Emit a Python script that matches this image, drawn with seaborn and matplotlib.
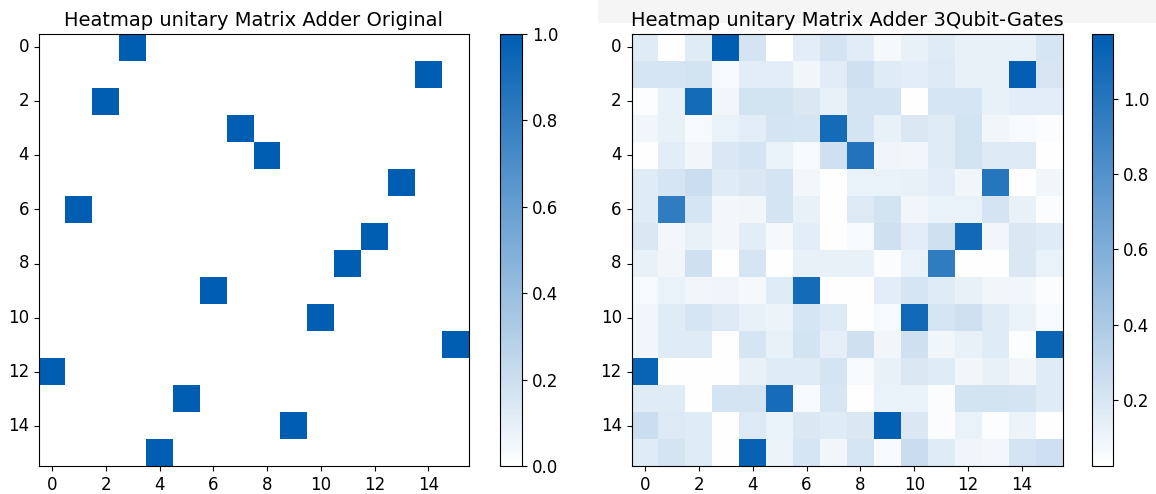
import numpy as np
import matplotlib
matplotlib.use("Agg")
import matplotlib.pyplot as plt
from matplotlib.colors import LinearSegmentedColormap
from matplotlib.patches import Rectangle
import seaborn as sns

# ---- data ----
# column index of the single 1 in each row of the original (permutation) unitary
perm_cols = [3, 14, 2, 7, 8, 13, 1, 12, 11, 6, 10, 15, 0, 5, 9, 4]

# magnitudes of the 3-qubit-gate version, row by row
r00 = [0.17, 0.03, 0.17, 1.173, 0.22, 0.024, 0.15, 0.22, 0.16, 0.07, 0.13, 0.17, 0.13, 0.13, 0.13, 0.21]
r01 = [0.21, 0.21, 0.23, 0.06, 0.15, 0.15, 0.09, 0.16, 0.24, 0.17, 0.15, 0.18, 0.13, 0.13, 1.16, 0.20]
r02 = [0.04, 0.13, 1.08, 0.09, 0.23, 0.23, 0.19, 0.13, 0.22, 0.22, 0.03, 0.21, 0.21, 0.13, 0.15, 0.15]
r03 = [0.09, 0.13, 0.06, 0.12, 0.15, 0.22, 0.21, 1.08, 0.22, 0.13, 0.19, 0.17, 0.23, 0.09, 0.06, 0.05]
r04 = [0.03, 0.15, 0.09, 0.19, 0.22, 0.12, 0.06, 0.24, 1.02, 0.10, 0.09, 0.17, 0.23, 0.18, 0.18, 0.03]
r05 = [0.17, 0.21, 0.26, 0.17, 0.19, 0.22, 0.08, 0.03, 0.12, 0.12, 0.13, 0.15, 0.09, 1.00, 0.03, 0.09]
r06 = [0.17, 0.96, 0.21, 0.08, 0.09, 0.22, 0.13, 0.03, 0.18, 0.23, 0.09, 0.12, 0.12, 0.22, 0.13, 0.05]
r07 = [0.19, 0.08, 0.13, 0.08, 0.15, 0.07, 0.15, 0.03, 0.06, 0.24, 0.15, 0.24, 1.09, 0.09, 0.19, 0.17]
r08 = [0.13, 0.09, 0.24, 0.03, 0.21, 0.03, 0.13, 0.13, 0.13, 0.05, 0.12, 0.96, 0.03, 0.03, 0.19, 0.12]
r09 = [0.06, 0.12, 0.09, 0.10, 0.07, 0.17, 1.08, 0.03, 0.03, 0.15, 0.21, 0.17, 0.13, 0.09, 0.09, 0.05]
r10 = [0.09, 0.17, 0.21, 0.18, 0.13, 0.11, 0.21, 0.18, 0.03, 0.06, 1.10, 0.21, 0.24, 0.17, 0.12, 0.06]
r11 = [0.09, 0.17, 0.17, 0.03, 0.21, 0.13, 0.23, 0.14, 0.24, 0.09, 0.24, 0.09, 0.13, 0.17, 0.04, 1.12]
r12 = [1.13, 0.03, 0.03, 0.03, 0.13, 0.17, 0.17, 0.22, 0.06, 0.13, 0.19, 0.17, 0.09, 0.13, 0.09, 0.17]
r13 = [0.17, 0.17, 0.03, 0.22, 0.22, 1.07, 0.06, 0.20, 0.03, 0.12, 0.12, 0.05, 0.23, 0.23, 0.22, 0.17]
r14 = [0.26, 0.18, 0.17, 0.03, 0.18, 0.12, 0.19, 0.17, 0.19, 1.16, 0.19, 0.05, 0.12, 0.04, 0.11, 0.03]
r15 = [0.17, 0.22, 0.17, 0.03, 1.14, 0.11, 0.21, 0.09, 0.21, 0.06, 0.27, 0.17, 0.10, 0.08, 0.22, 0.25]

tick_labels = ["0", "2", "4", "6", "8", "10", "12", "14"]
titles = ["Heatmap unitary Matrix Adder Original", "Heatmap unitary Matrix Adder 3Qubit-Gates"]

# ---- build matrices ----
n = len(perm_cols)
orig = np.zeros((n, n))
orig[np.arange(n), perm_cols] = 1.0
gates = np.array([r00, r01, r02, r03, r04, r05, r06, r07, r08, r09, r10, r11, r12, r13, r14, r15])

cmap = LinearSegmentedColormap.from_list("wb", ["#ffffff", "#005EB2"])

W, H = 1156, 494
fig = plt.figure(figsize=(W / 100, H / 100), dpi=100)

# faint grey band behind right title (as in the reference)
fig.patches.append(Rectangle((598 / W, 1 - 23 / H), 1 - 598 / W, 23 / H,
                             transform=fig.transFigure, facecolor="#f5f5f5",
                             edgecolor="none", zorder=-1))

def fx(px):
    return px / W

bottom = (H - 466) / H
height = 432 / H
ax1 = fig.add_axes([fx(38.6), bottom, fx(430), height])
cax1 = fig.add_axes([fx(500), bottom, fx(22), height])
ax2 = fig.add_axes([fx(631.5), bottom, fx(431), height])
cax2 = fig.add_axes([fx(1092), bottom, fx(21), height])

for ax, cax, data, title in [(ax1, cax1, orig, titles[0]), (ax2, cax2, gates, titles[1])]:
    sns.heatmap(data, ax=ax, cbar_ax=cax, cmap=cmap, cbar=True)
    ticks = np.arange(0, n, 2) + 0.5
    ax.set_xticks(ticks)
    ax.set_xticklabels(tick_labels, rotation=0, fontsize=12)
    ax.set_yticks(ticks)
    ax.set_yticklabels(tick_labels, rotation=0, fontsize=12)
    ax.tick_params(length=3.5, width=0.8, color="black")
    for s in ax.spines.values():
        s.set_visible(True)
        s.set_linewidth(0.8)
        s.set_color("black")
    ax.set_title(title, fontsize=14, pad=6)
    cb = ax.collections[0].colorbar
    cb.outline.set_visible(True)
    cb.outline.set_linewidth(0.8)
    cb.outline.set_edgecolor("black")
    cb.ax.tick_params(labelsize=12, length=3.5, width=0.8)

fig.savefig("out.png", dpi=100)
